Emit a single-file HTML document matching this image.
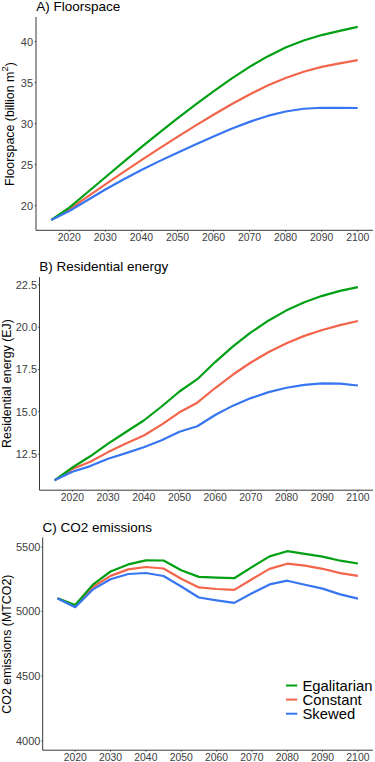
<!DOCTYPE html>
<html><head><meta charset="utf-8"><style>
html,body{margin:0;padding:0;background:#fff;}
svg{display:block;font-family:"Liberation Sans",sans-serif;}
</style></head><body>
<svg width="375" height="762" viewBox="0 0 375 762">
<rect width="375" height="762" fill="#fff"/>
<text x="36.2" y="11.2" font-size="13.5" fill="#000">A) Floorspace</text>
<path d="M36.00 17.00V230.30H373" fill="none" stroke="#383838" stroke-width="1.0" stroke-linejoin="round"/>
<path d="M34.70 41.60H36.00" stroke="#383838" stroke-width="1"/>
<text x="33.10" y="45.51" font-size="11.0" fill="#404040" text-anchor="end">40</text>
<path d="M34.70 82.60H36.00" stroke="#383838" stroke-width="1"/>
<text x="33.10" y="86.50" font-size="11.0" fill="#404040" text-anchor="end">35</text>
<path d="M34.70 123.60H36.00" stroke="#383838" stroke-width="1"/>
<text x="33.10" y="127.50" font-size="11.0" fill="#404040" text-anchor="end">30</text>
<path d="M34.70 164.60H36.00" stroke="#383838" stroke-width="1"/>
<text x="33.10" y="168.50" font-size="11.0" fill="#404040" text-anchor="end">25</text>
<path d="M34.70 205.60H36.00" stroke="#383838" stroke-width="1"/>
<text x="33.10" y="209.50" font-size="11.0" fill="#404040" text-anchor="end">20</text>
<path d="M69.30 230.30V231.60" stroke="#383838" stroke-width="1"/>
<text x="69.30" y="240.80" font-size="10.4" fill="#404040" text-anchor="middle">2020</text>
<path d="M105.35 230.30V231.60" stroke="#383838" stroke-width="1"/>
<text x="105.35" y="240.80" font-size="10.4" fill="#404040" text-anchor="middle">2030</text>
<path d="M141.40 230.30V231.60" stroke="#383838" stroke-width="1"/>
<text x="141.40" y="240.80" font-size="10.4" fill="#404040" text-anchor="middle">2040</text>
<path d="M177.45 230.30V231.60" stroke="#383838" stroke-width="1"/>
<text x="177.45" y="240.80" font-size="10.4" fill="#404040" text-anchor="middle">2050</text>
<path d="M213.50 230.30V231.60" stroke="#383838" stroke-width="1"/>
<text x="213.50" y="240.80" font-size="10.4" fill="#404040" text-anchor="middle">2060</text>
<path d="M249.55 230.30V231.60" stroke="#383838" stroke-width="1"/>
<text x="249.55" y="240.80" font-size="10.4" fill="#404040" text-anchor="middle">2070</text>
<path d="M285.60 230.30V231.60" stroke="#383838" stroke-width="1"/>
<text x="285.60" y="240.80" font-size="10.4" fill="#404040" text-anchor="middle">2080</text>
<path d="M321.65 230.30V231.60" stroke="#383838" stroke-width="1"/>
<text x="321.65" y="240.80" font-size="10.4" fill="#404040" text-anchor="middle">2090</text>
<path d="M357.70 230.30V231.60" stroke="#383838" stroke-width="1"/>
<text x="357.70" y="240.80" font-size="10.4" fill="#404040" text-anchor="middle">2100</text>
<text transform="translate(14.2,124.0) rotate(-90)" x="0" y="0" font-size="12.4" fill="#000" text-anchor="middle">Floorspace (billion m<tspan dy="-6" font-size="9.6">2</tspan><tspan dy="6">)</tspan></text>
<polyline points="51.27,219.90 69.30,209.23 87.32,196.79 105.35,184.38 123.38,172.09 141.40,160.09 159.43,148.36 177.45,136.89 195.47,125.65 213.50,114.72 231.52,104.24 249.55,94.43 267.57,85.57 285.60,77.93 303.62,71.71 321.65,66.93 339.68,63.31 357.70,60.12" fill="none" stroke="#F2654B" stroke-width="2.2" stroke-linejoin="round"/>
<polyline points="51.27,219.90 69.30,207.54 87.32,192.48 105.35,177.25 123.38,162.05 141.40,147.15 159.43,132.62 177.45,118.44 195.47,104.64 213.50,91.30 231.52,78.61 249.55,66.87 267.57,56.40 285.60,47.52 303.62,40.43 321.65,35.06 339.68,30.93 357.70,26.90" fill="none" stroke="#00A014" stroke-width="2.2" stroke-linejoin="round"/>
<polyline points="51.27,219.90 69.30,211.05 87.32,200.21 105.35,189.56 123.38,179.45 141.40,170.00 159.43,161.13 177.45,152.65 195.47,144.42 213.50,136.43 231.52,128.81 249.55,121.85 267.57,115.94 285.60,111.49 303.62,108.76 321.65,107.74 339.68,107.91 357.70,107.98" fill="none" stroke="#3776F0" stroke-width="2.2" stroke-linejoin="round"/>
<text x="39.2" y="270.7" font-size="13.5" fill="#000">B) Residential energy</text>
<path d="M39.50 277.20V490.20H373" fill="none" stroke="#383838" stroke-width="1.0" stroke-linejoin="round"/>
<path d="M38.20 284.90H39.50" stroke="#383838" stroke-width="1"/>
<text x="37.10" y="288.80" font-size="11.0" fill="#404040" text-anchor="end">22.5</text>
<path d="M38.20 327.20H39.50" stroke="#383838" stroke-width="1"/>
<text x="37.10" y="331.10" font-size="11.0" fill="#404040" text-anchor="end">20.0</text>
<path d="M38.20 369.50H39.50" stroke="#383838" stroke-width="1"/>
<text x="37.10" y="373.40" font-size="11.0" fill="#404040" text-anchor="end">17.5</text>
<path d="M38.20 411.60H39.50" stroke="#383838" stroke-width="1"/>
<text x="37.10" y="415.50" font-size="11.0" fill="#404040" text-anchor="end">15.0</text>
<path d="M38.20 454.10H39.50" stroke="#383838" stroke-width="1"/>
<text x="37.10" y="458.00" font-size="11.0" fill="#404040" text-anchor="end">12.5</text>
<path d="M72.40 490.20V491.50" stroke="#383838" stroke-width="1"/>
<text x="72.40" y="500.70" font-size="10.4" fill="#404040" text-anchor="middle">2020</text>
<path d="M108.09 490.20V491.50" stroke="#383838" stroke-width="1"/>
<text x="108.09" y="500.70" font-size="10.4" fill="#404040" text-anchor="middle">2030</text>
<path d="M143.78 490.20V491.50" stroke="#383838" stroke-width="1"/>
<text x="143.78" y="500.70" font-size="10.4" fill="#404040" text-anchor="middle">2040</text>
<path d="M179.47 490.20V491.50" stroke="#383838" stroke-width="1"/>
<text x="179.47" y="500.70" font-size="10.4" fill="#404040" text-anchor="middle">2050</text>
<path d="M215.16 490.20V491.50" stroke="#383838" stroke-width="1"/>
<text x="215.16" y="500.70" font-size="10.4" fill="#404040" text-anchor="middle">2060</text>
<path d="M250.85 490.20V491.50" stroke="#383838" stroke-width="1"/>
<text x="250.85" y="500.70" font-size="10.4" fill="#404040" text-anchor="middle">2070</text>
<path d="M286.54 490.20V491.50" stroke="#383838" stroke-width="1"/>
<text x="286.54" y="500.70" font-size="10.4" fill="#404040" text-anchor="middle">2080</text>
<path d="M322.23 490.20V491.50" stroke="#383838" stroke-width="1"/>
<text x="322.23" y="500.70" font-size="10.4" fill="#404040" text-anchor="middle">2090</text>
<path d="M357.92 490.20V491.50" stroke="#383838" stroke-width="1"/>
<text x="357.92" y="500.70" font-size="10.4" fill="#404040" text-anchor="middle">2100</text>
<text transform="translate(11.0,383.5) rotate(-90)" x="0" y="0" font-size="12.4" fill="#000" text-anchor="middle">Residential energy (EJ)</text>
<polyline points="54.56,480.30 72.40,469.10 90.25,461.70 108.09,452.10 125.94,443.50 143.78,435.50 161.62,424.60 179.47,412.30 197.31,402.70 215.16,388.02 233.00,374.51 250.85,362.47 268.69,352.02 286.54,343.18 304.38,335.89 322.23,329.96 340.08,325.14 357.92,321.04" fill="none" stroke="#F2654B" stroke-width="2.2" stroke-linejoin="round"/>
<polyline points="54.56,480.30 72.40,467.50 90.25,456.30 108.09,443.70 125.94,432.00 143.78,420.50 161.62,406.50 179.47,391.50 197.31,379.20 215.16,362.07 233.00,346.37 250.85,332.44 268.69,320.42 286.54,310.37 304.38,302.23 322.23,295.83 340.08,290.91 357.92,287.07" fill="none" stroke="#00A014" stroke-width="2.2" stroke-linejoin="round"/>
<polyline points="54.56,480.30 72.40,471.70 90.25,466.10 108.09,458.70 125.94,453.10 143.78,447.20 161.62,440.30 179.47,431.70 197.31,426.30 215.16,414.99 233.00,405.65 250.85,398.09 268.69,392.15 286.54,387.75 304.38,384.84 322.23,383.44 340.08,383.61 357.92,385.49" fill="none" stroke="#3776F0" stroke-width="2.2" stroke-linejoin="round"/>
<text x="42.5" y="531.5" font-size="13.5" fill="#000">C) CO2 emissions</text>
<path d="M42.70 537.40V750.20H373" fill="none" stroke="#383838" stroke-width="1.0" stroke-linejoin="round"/>
<path d="M41.40 547.20H42.70" stroke="#383838" stroke-width="1"/>
<text x="40.40" y="551.11" font-size="11.0" fill="#404040" text-anchor="end">5500</text>
<path d="M41.40 611.30H42.70" stroke="#383838" stroke-width="1"/>
<text x="40.40" y="615.20" font-size="11.0" fill="#404040" text-anchor="end">5000</text>
<path d="M41.40 676.00H42.70" stroke="#383838" stroke-width="1"/>
<text x="40.40" y="679.90" font-size="11.0" fill="#404040" text-anchor="end">4500</text>
<path d="M41.40 741.00H42.70" stroke="#383838" stroke-width="1"/>
<text x="40.40" y="744.90" font-size="11.0" fill="#404040" text-anchor="end">4000</text>
<path d="M75.20 750.20V751.50" stroke="#383838" stroke-width="1"/>
<text x="75.20" y="760.70" font-size="10.4" fill="#404040" text-anchor="middle">2020</text>
<path d="M110.54 750.20V751.50" stroke="#383838" stroke-width="1"/>
<text x="110.54" y="760.70" font-size="10.4" fill="#404040" text-anchor="middle">2030</text>
<path d="M145.88 750.20V751.50" stroke="#383838" stroke-width="1"/>
<text x="145.88" y="760.70" font-size="10.4" fill="#404040" text-anchor="middle">2040</text>
<path d="M181.22 750.20V751.50" stroke="#383838" stroke-width="1"/>
<text x="181.22" y="760.70" font-size="10.4" fill="#404040" text-anchor="middle">2050</text>
<path d="M216.56 750.20V751.50" stroke="#383838" stroke-width="1"/>
<text x="216.56" y="760.70" font-size="10.4" fill="#404040" text-anchor="middle">2060</text>
<path d="M251.90 750.20V751.50" stroke="#383838" stroke-width="1"/>
<text x="251.90" y="760.70" font-size="10.4" fill="#404040" text-anchor="middle">2070</text>
<path d="M287.24 750.20V751.50" stroke="#383838" stroke-width="1"/>
<text x="287.24" y="760.70" font-size="10.4" fill="#404040" text-anchor="middle">2080</text>
<path d="M322.58 750.20V751.50" stroke="#383838" stroke-width="1"/>
<text x="322.58" y="760.70" font-size="10.4" fill="#404040" text-anchor="middle">2090</text>
<path d="M357.92 750.20V751.50" stroke="#383838" stroke-width="1"/>
<text x="357.92" y="760.70" font-size="10.4" fill="#404040" text-anchor="middle">2100</text>
<text transform="translate(11.0,644.1) rotate(-90)" x="0" y="0" font-size="12.4" fill="#000" text-anchor="middle">CO2 emissions (MTCO2)</text>
<polyline points="57.53,598.30 75.20,606.20 92.87,587.00 110.54,575.90 128.21,569.40 145.88,567.00 163.55,568.50 181.22,578.80 198.89,587.40 216.56,589.00 234.23,589.90 251.90,579.20 269.57,568.90 287.24,563.70 304.91,565.60 322.58,568.80 340.25,573.10 357.92,575.80" fill="none" stroke="#F2654B" stroke-width="2.2" stroke-linejoin="round"/>
<polyline points="57.53,598.20 75.20,605.00 92.87,584.60 110.54,571.50 128.21,564.40 145.88,560.40 163.55,560.50 181.22,570.30 198.89,576.90 216.56,577.60 234.23,578.20 251.90,567.10 269.57,556.40 287.24,551.20 304.91,553.90 322.58,556.60 340.25,560.70 357.92,563.50" fill="none" stroke="#00A014" stroke-width="2.2" stroke-linejoin="round"/>
<polyline points="57.53,598.40 75.20,607.20 92.87,589.40 110.54,579.20 128.21,574.00 145.88,573.00 163.55,576.00 181.22,586.50 198.89,597.50 216.56,600.30 234.23,602.90 251.90,593.20 269.57,584.40 287.24,580.70 304.91,584.80 322.58,588.60 340.25,594.40 357.92,598.60" fill="none" stroke="#3776F0" stroke-width="2.2" stroke-linejoin="round"/>
<path d="M286 685.50H297.3" stroke="#00A014" stroke-width="2"/>
<text x="302.5" y="691.30" font-size="14.8" fill="#000">Egalitarian</text>
<path d="M286 699.60H297.3" stroke="#F2654B" stroke-width="2"/>
<text x="302.5" y="705.20" font-size="14.8" fill="#000">Constant</text>
<path d="M286 713.70H297.3" stroke="#3776F0" stroke-width="2"/>
<text x="302.5" y="719.10" font-size="14.8" fill="#000">Skewed</text>
</svg></body></html>
